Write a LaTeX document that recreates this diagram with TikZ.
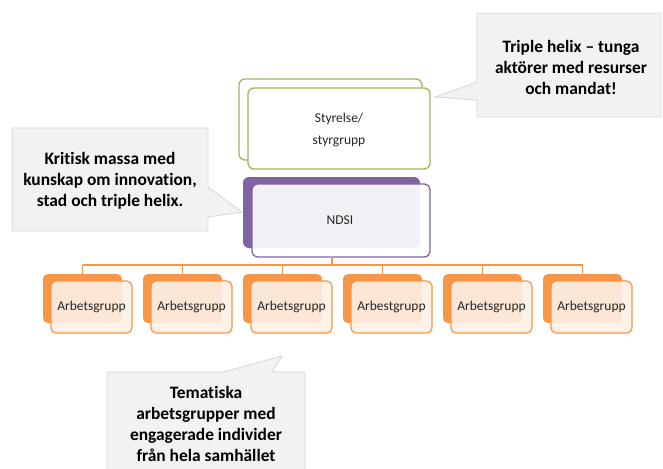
\documentclass[tikz,border=0pt]{standalone}
\usepackage{fontspec}
\setmainfont[RawFeature={-liga}]{Carlito}
\definecolor{og}{HTML}{F79646}
\definecolor{ogl}{HTML}{FDF0E6}
\definecolor{gr}{HTML}{9BBB59}
\definecolor{pu}{HTML}{8064A2}
\definecolor{pul}{HTML}{F1EEF5}
\definecolor{cfill}{HTML}{F2F2F2}
\definecolor{cline}{HTML}{D6D6D6}
\definecolor{txt}{HTML}{262626}
\tikzset{
  boxtext/.style={font=\fontsize{13.5}{22}\selectfont, text=txt, align=center},
  calltext/.style={font=\fontsize{17.4}{21}\selectfont\bfseries, text=black, align=center},
  callout/.style={fill=cfill, draw=cline, line width=0.8pt},
  link/.style={draw=og, line width=1.2pt},
}
\begin{document}
\begin{tikzpicture}[x=1pt,y=-1pt]
\useasboundingbox (0,0) rectangle (663,468);
\fill[white] (0,0) rectangle (663,468);

% Styrelse
\draw[gr, line width=1.3pt, fill=white, rounded corners=6pt] (239,79) rectangle (422,160);
\draw[gr, line width=1.3pt, fill=white, rounded corners=6pt] (248,88) rectangle (430,169);
\node[boxtext] (sty) at (339,130) {Styrelse/\\styrgrupp};

% NDSI
\fill[pu, rounded corners=6pt] (243,177) rectangle (420,248);
\draw[pu, line width=1.3pt, fill=white, fill opacity=0.9, rounded corners=6pt] (252,184) rectangle (430,257);
\node[boxtext] (ndsi) at (340,220) {NDSI};
\coordinate (nb) at (332,257);
\coordinate (bus) at (332,265);

% Arbetsgrupper
\foreach \i/\t in {0/Arbetsgrupp,1/Arbetsgrupp,2/Arbetsgrupp,3/Arbestgrupp,4/Arbetsgrupp,5/Arbetsgrupp}{
  \pgfmathsetmacro{\dx}{100*\i}
  \begin{scope}[xshift=\dx]
    \fill[og, rounded corners=5pt] (43,274) rectangle (122,323);
    \draw[og, line width=1.2pt, fill=ogl, fill opacity=0.9, rounded corners=5pt] (51,281) rectangle (132,333);
    \node[boxtext] (ag\i) at (91.5,307) {\t};
    \coordinate (top\i) at (82.5,274);
    \coordinate (bus\i) at (82.5,265);
  \end{scope}
}
\draw[link] (bus0) -- (bus5);
\draw[link] (nb) -- (bus);
\foreach \i in {0,...,5}{ \draw[link] (bus\i) -- (top\i); }

% Callouts
\draw[callout] (477,13) -- (661,13) -- (661,117) -- (477,117) -- (477,100) -- (435,97) -- (477,82) -- cycle;
\node[calltext] (c1) at (571,67) {Triple helix – tunga\\aktörer med resurser\\och mandat!};

\draw[callout] (12,128) -- (208,128) -- (208,187) -- (242,212) -- (208,217) -- (208,231) -- (12,231) -- cycle;
\node[calltext] (c2) at (110,181) {Kritisk massa med\\kunskap om innovation,\\stad och triple helix.};

\draw[callout] (107,372) -- (223,372) -- (282,356) -- (272,372) -- (305,372) -- (305,470) -- (107,470) -- cycle;
\node[calltext] (c3) at (206,423.5) {Tematiska\\arbetsgrupper med\\engagerade individer\\från hela samhället};
\end{tikzpicture}
\end{document}
